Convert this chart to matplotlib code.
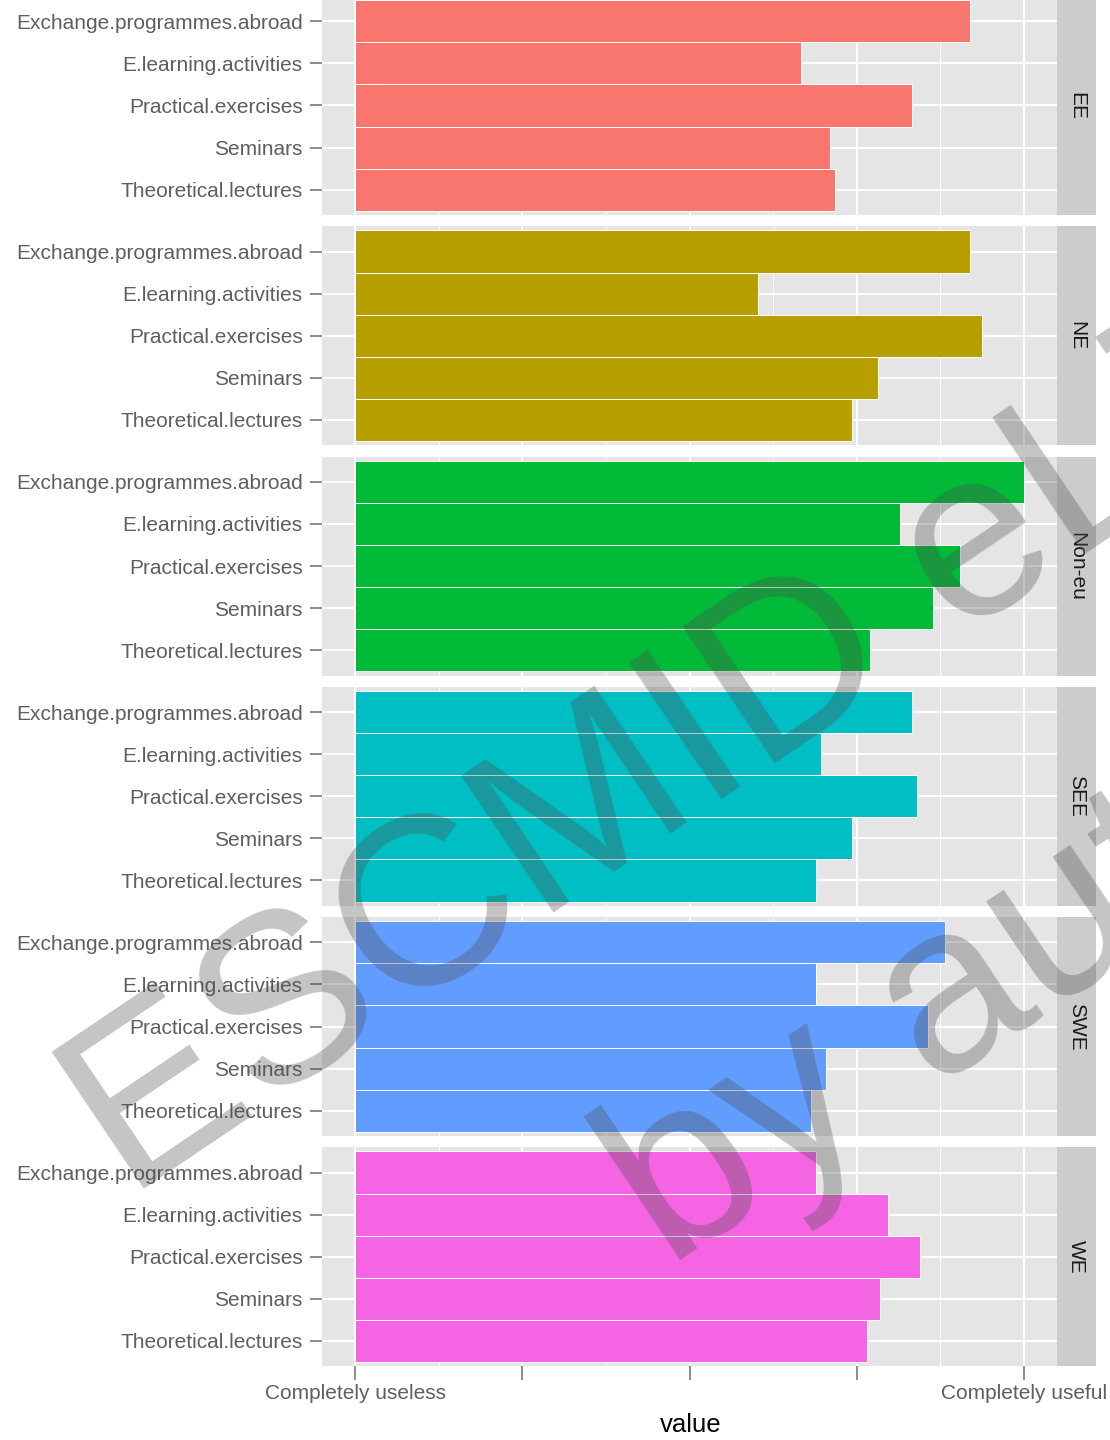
import matplotlib
matplotlib.use("Agg")
import matplotlib.pyplot as plt

plt.rcParams["font.family"] = ["Liberation Sans", "DejaVu Sans"]

# DATA

REGIONS = ["EE", "NE", "Non-eu", "SEE", "SWE", "WE"]
ITEMS = ["Exchange.programmes.abroad", "E.learning.activities",
         "Practical.exercises", "Seminars", "Theoretical.lectures"]

EE     = [4.68, 3.67, 4.33, 3.84, 3.87]
NE     = [4.68, 3.41, 4.75, 4.13, 3.97]
NON_EU = [5.00, 4.26, 4.62, 4.46, 4.08]
SEE    = [4.33, 3.79, 4.36, 3.97, 3.76]
SWE    = [4.53, 3.76, 4.43, 3.82, 3.73]
WE     = [3.76, 4.19, 4.38, 4.14, 4.06]

SCALE_TICKS  = [1, 2, 3, 4, 5]
SCALE_LABELS = ["Completely useless", "", "", "", "Completely useful"]

COLORS = ["#F8766D", "#B79F00", "#00BA38", "#00BFC4", "#619CFF", "#F564E3"]


# LAYOUT (pixels)

W, H = 1110, 1440
PX_L, PX_R, STRIP_R = 322, 1057, 1096
TOP0, PANEL_H, PITCH = -4, 219, 230.25

PANEL_BG = "#E5E5E5"
STRIP_BG = "#CCCCCC"
TXT_GREY = "#5E5E5E"


def rect(left, right, top, height):
    return [left / W, 1 - (top + height) / H, (right - left) / W, height / H]


# PLOT

fig = plt.figure(figsize=(W / 100, H / 100), dpi=100)
fig.patch.set_facecolor("white")

series = [EE, NE, NON_EU, SEE, SWE, WE]
ypos = [len(ITEMS) - i for i in range(len(ITEMS))]

for k, (region, vals) in enumerate(zip(REGIONS, series)):
    top = TOP0 + k * PITCH
    ax = fig.add_axes(rect(PX_L, PX_R, top, PANEL_H))
    ax.set_facecolor(PANEL_BG)
    ax.set_axisbelow(True)

    ax.barh(ypos, [v - SCALE_TICKS[0] for v in vals], left=SCALE_TICKS[0],
            height=1.0, color=COLORS[k], edgecolor="white", linewidth=0.7)

    ax.set_xlim(0.8, 5.2)
    ax.set_ylim(0.4, 5.6)
    ax.set_xticks(SCALE_TICKS)
    ax.set_xticks([1.5, 2.5, 3.5, 4.5], minor=True)
    ax.set_yticks(ypos)
    ax.set_yticklabels(ITEMS)

    ax.grid(which="major", color="white", linewidth=1.4)
    ax.grid(which="minor", axis="x", color="white", linewidth=0.7)
    for s in ax.spines.values():
        s.set_visible(False)

    ax.tick_params(axis="y", length=9, width=1.1, color="#6E6E6E",
                   pad=5, labelsize=15, labelcolor=TXT_GREY)
    ax.tick_params(axis="x", which="minor", length=0)

    if k == len(REGIONS) - 1:
        ax.set_xticklabels(SCALE_LABELS)
        ax.tick_params(axis="x", which="major", length=10, width=1.1,
                       color="#6E6E6E", pad=3, labelsize=15,
                       labelcolor=TXT_GREY)
    else:
        ax.tick_params(axis="x", which="major", length=0, labelbottom=False)

    sx = fig.add_axes(rect(PX_R, STRIP_R, top, PANEL_H))
    sx.set_facecolor(STRIP_BG)
    sx.set_xticks([])
    sx.set_yticks([])
    for s in sx.spines.values():
        s.set_visible(False)
    sx.text(0.5, 0.5, region, rotation=-90, ha="center", va="center",
            fontsize=15, color="#1A1A1A", transform=sx.transAxes)

fig.text(691 / W, 1 - 1425 / H, "value", ha="center", va="center",
         fontsize=18.5, color="black")

# watermark
fig.text(128 / W, 1 - 1200 / H, "ESCMID eLibrary", rotation=34,
         rotation_mode="anchor", ha="left", va="baseline",
         fontsize=173, color="#4D4D4D", alpha=0.33, zorder=10)
fig.text(668 / W, 1 - 1270 / H, "by author", rotation=34,
         rotation_mode="anchor", ha="left", va="baseline",
         fontsize=173, color="#4D4D4D", alpha=0.33, zorder=10)

fig.savefig("out.png", dpi=100, facecolor=fig.get_facecolor())
